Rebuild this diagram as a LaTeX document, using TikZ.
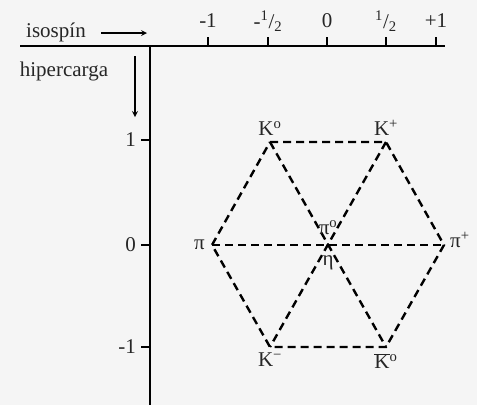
\documentclass[tikz,border=0pt]{standalone}
\usepackage{fontspec}
\setmainfont{Liberation Serif}
\usetikzlibrary{positioning}
\begin{document}
\begin{tikzpicture}[x=1pt,y=-1pt,
  lbl/.style={inner sep=1pt,text=black!85,font=\fontsize{21}{24}\selectfont},
  eje/.style={line width=2pt},
  marca/.style={line width=1.6pt},
  traza/.style={line width=2.4pt,dash pattern=on 8pt off 5pt}]
\useasboundingbox[fill=gray!8] (0,0) rectangle (477,405);

% ejes
\coordinate (hizq) at (20,46);
\coordinate (hder) at (445,46);
\coordinate (vtop) at (150,46);
\coordinate (vbot) at (150,405);
\draw[eje] (hizq) -- (hder);
\draw[eje] (vtop) -- (vbot);

% isospin
\foreach \x/\t in {208/-1, 268/{-\textsuperscript{1}/\textsubscript{2}}, 327/0, 386/{\textsuperscript{1}/\textsubscript{2}}, 436/+1}{
  \coordinate (ta\x) at (\x,46);
  \coordinate (tb\x) at (\x,37);
  \draw[marca] (ta\x) -- (tb\x);
  \node[lbl] (i\x) at (\x,21) {\t};
}

% hipercarga
\foreach \y/\t in {140/1, 245/0, 347/-1}{
  \coordinate (ua\y) at (150,\y);
  \coordinate (ub\y) at (141,\y);
  \draw[marca] (ua\y) -- (ub\y);
  \node[lbl,anchor=east] (h\y) at (137,\y) {\t};
}

\node[lbl] (iso) at (56,32) {isospín};
\coordinate (isoa) at (101,33);
\coordinate (isob) at (147,33);
\draw[->,>=stealth,line width=1.6pt] (isoa) -- (isob);

\node[lbl] (hip) at (64,71) {hipercarga};
\coordinate (hipa) at (135,56);
\coordinate (hipb) at (135,117);
\draw[->,>=stealth,line width=1.6pt] (hipa) -- (hipb);

% octete
\coordinate (k0) at (270,142);
\coordinate (kp) at (386,142);
\coordinate (pip) at (444,245);
\coordinate (kb) at (386,347);
\coordinate (km) at (270,347);
\coordinate (pim) at (212,245);
\coordinate (c) at (328,245);
\draw[traza] (k0) -- (kp) -- (pip) -- (kb) -- (km) -- (pim) -- cycle;
\draw[traza] (k0) -- (kb);
\draw[traza] (kp) -- (km);
\draw[traza] (pim) -- (pip);

\node[lbl,above=5pt of k0] (lk0) {K\textsuperscript{o}};
\node[lbl,above=5pt of kp] (lkp) {K\textsuperscript{+}};
\node[lbl,left=6pt of pim] (lpim) {π};
\node[lbl,above right=-4pt and 5pt of pip] (lpip) {π\textsuperscript{+}};
\node[lbl,above=9pt of c] (lpi0) {π\textsuperscript{o}};
\node[lbl,below=9pt of c] (leta) {η};
\node[lbl,below=5pt of km] (lkm) {K\textsuperscript{−}};
\node[lbl,below=5pt of kb] (lkb) {$\overline{\mbox{K}}$\textsuperscript{o}};
\end{tikzpicture}
\end{document}
